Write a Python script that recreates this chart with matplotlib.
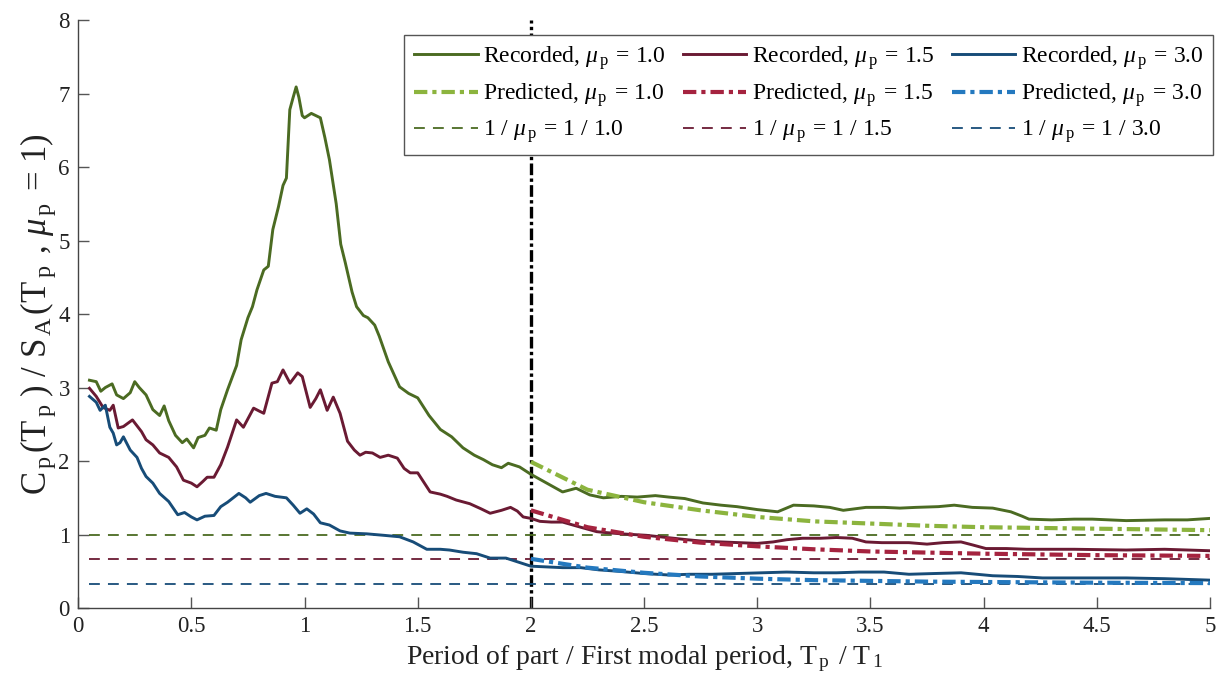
import numpy as np
import matplotlib
matplotlib.use("Agg")
import matplotlib.pyplot as plt

plt.rcParams['font.family'] = ['Liberation Serif', 'DejaVu Serif']
plt.rcParams['mathtext.fontset'] = 'custom'
plt.rcParams['mathtext.rm'] = 'Liberation Serif'
plt.rcParams['mathtext.it'] = 'Liberation Serif:italic'

# -----------------------------
# Recorded floor spectra ratios
# -----------------------------
rec_10_x = [0.05, 0.08, 0.10, 0.12, 0.15, 0.17, 0.20, 0.23, 0.25, 0.27, 0.30, 0.33, 0.36, 0.38,
            0.40, 0.43, 0.46, 0.48, 0.51, 0.53, 0.56, 0.58, 0.61, 0.63, 0.66, 0.70, 0.72, 0.75,
            0.77, 0.79, 0.82, 0.84, 0.86, 0.885, 0.905, 0.92, 0.935, 0.95, 0.963, 0.975, 0.99,
            1.00, 1.03, 1.05, 1.07, 1.09, 1.11, 1.14, 1.16, 1.18, 1.21, 1.23, 1.26, 1.28, 1.31,
            1.33, 1.37, 1.42, 1.46, 1.50, 1.55, 1.60, 1.65, 1.70, 1.75, 1.79, 1.83, 1.87, 1.90,
            1.95, 2.00, 2.07, 2.14, 2.20, 2.26, 2.32, 2.40, 2.47, 2.55, 2.61, 2.68, 2.76, 2.84,
            2.91, 3.00, 3.09, 3.16, 3.25, 3.32, 3.38, 3.48, 3.56, 3.63, 3.70, 3.80, 3.87, 3.95,
            4.04, 4.12, 4.17, 4.20, 4.30, 4.40, 4.48, 4.63, 4.80, 4.90, 5.00]
rec_10_y = [3.10, 3.08, 2.95, 3.00, 3.05, 2.90, 2.85, 2.93, 3.08, 3.00, 2.90, 2.70, 2.62, 2.75,
            2.55, 2.35, 2.25, 2.30, 2.18, 2.32, 2.35, 2.45, 2.42, 2.70, 2.97, 3.30, 3.65, 3.95,
            4.10, 4.33, 4.60, 4.65, 5.15, 5.46, 5.75, 5.85, 6.78, 6.95, 7.09, 6.95, 6.70,
            6.67, 6.73, 6.70, 6.67, 6.40, 6.10, 5.50, 4.95, 4.70, 4.30, 4.10, 3.98, 3.95, 3.85,
            3.70, 3.35, 3.01, 2.92, 2.86, 2.62, 2.43, 2.33, 2.18, 2.08, 2.02, 1.95, 1.91, 1.97,
            1.92, 1.82, 1.70, 1.58, 1.63, 1.54, 1.50, 1.52, 1.51, 1.53, 1.51, 1.49, 1.43, 1.40,
            1.38, 1.34, 1.31, 1.40, 1.39, 1.37, 1.33, 1.37, 1.37, 1.36, 1.37, 1.38, 1.40, 1.37,
            1.36, 1.31, 1.25, 1.21, 1.20, 1.21, 1.21, 1.19, 1.20, 1.20, 1.22]

rec_15_x = [0.05, 0.08, 0.11, 0.14, 0.155, 0.177, 0.20, 0.24, 0.26, 0.28, 0.30, 0.33, 0.36, 0.40,
            0.435, 0.465, 0.50, 0.525, 0.55, 0.57, 0.60, 0.63, 0.66, 0.70, 0.73, 0.775, 0.80,
            0.82, 0.856, 0.88, 0.905, 0.936, 0.97, 0.99, 1.025, 1.05, 1.07, 1.10, 1.127, 1.157,
            1.19, 1.22, 1.245, 1.27, 1.30, 1.334, 1.37, 1.41, 1.44, 1.467, 1.50, 1.555, 1.60,
            1.63, 1.67, 1.73, 1.78, 1.82, 1.87, 1.91, 1.94, 1.966, 2.00, 2.04, 2.09, 2.14, 2.22,
            2.29, 2.32, 2.40, 2.51, 2.60, 2.69, 2.76, 2.84, 2.92, 3.00, 3.07, 3.13, 3.20, 3.28,
            3.35, 3.42, 3.48, 3.55, 3.67, 3.75, 3.82, 3.90, 3.95, 4.01, 4.10, 4.19, 4.40, 4.63,
            4.80, 5.00]
rec_15_y = [2.99, 2.88, 2.73, 2.69, 2.76, 2.45, 2.47, 2.56, 2.48, 2.40, 2.29, 2.22, 2.11, 2.05,
            1.92, 1.74, 1.70, 1.65, 1.72, 1.78, 1.78, 1.95, 2.19, 2.56, 2.46, 2.72, 2.68,
            2.65, 3.06, 3.08, 3.24, 3.06, 3.20, 3.15, 2.73, 2.85, 2.97, 2.69, 2.87, 2.65,
            2.27, 2.15, 2.08, 2.12, 2.11, 2.05, 2.08, 2.04, 1.90, 1.84, 1.84, 1.58, 1.55,
            1.52, 1.47, 1.42, 1.35, 1.29, 1.33, 1.37, 1.32, 1.24, 1.22, 1.18, 1.17, 1.17, 1.10,
            1.04, 1.03, 1.01, 0.99, 0.96, 0.93, 0.91, 0.90, 0.89, 0.88, 0.90, 0.93, 0.95, 0.95,
            0.96, 0.95, 0.90, 0.89, 0.89, 0.87, 0.89, 0.90, 0.86, 0.81, 0.81, 0.80, 0.80, 0.79,
            0.80, 0.78]

rec_30_x = [0.05, 0.08, 0.097, 0.12, 0.14, 0.155, 0.17, 0.185, 0.20, 0.23, 0.26, 0.28, 0.30, 0.33,
            0.36, 0.40, 0.44, 0.47, 0.50, 0.525, 0.56, 0.60, 0.63, 0.66, 0.71, 0.74, 0.76, 0.80,
            0.83, 0.87, 0.92, 0.95, 0.98, 1.01, 1.04, 1.07, 1.11, 1.157, 1.20, 1.275, 1.35, 1.42,
            1.48, 1.54, 1.60, 1.64, 1.70, 1.76, 1.82, 1.89, 1.95, 2.00, 2.07, 2.14, 2.22, 2.30,
            2.39, 2.50, 2.61, 2.70, 2.80, 2.91, 3.02, 3.13, 3.25, 3.35, 3.45, 3.56, 3.67, 3.78,
            3.90, 3.97, 4.04, 4.15, 4.26, 4.45, 4.63, 4.80, 5.00]
rec_30_y = [2.88, 2.80, 2.69, 2.76, 2.46, 2.38, 2.22, 2.25, 2.33, 2.15, 2.05, 1.90, 1.79, 1.70,
            1.56, 1.45, 1.27, 1.30, 1.24, 1.20, 1.25, 1.26, 1.38, 1.44, 1.56, 1.50, 1.44, 1.53,
            1.56, 1.52, 1.50, 1.40, 1.29, 1.35, 1.28, 1.16, 1.13, 1.05, 1.02, 1.01, 0.99, 0.97,
            0.90, 0.80, 0.80, 0.79, 0.76, 0.74, 0.68, 0.68, 0.62, 0.57, 0.56, 0.55, 0.55, 0.52,
            0.50, 0.47, 0.45, 0.46, 0.46, 0.47, 0.48, 0.49, 0.48, 0.48, 0.49, 0.49, 0.46, 0.47,
            0.48, 0.46, 0.44, 0.43, 0.41, 0.41, 0.41, 0.40, 0.38]

# -----------------------------
# Predicted ratios (T_p / T_1 >= 2)
# -----------------------------
pred_x = [2.0, 2.25, 2.5, 2.75, 3.0, 3.25, 3.5, 3.75, 4.0, 4.5, 5.0]
pred_10_y = [1.99, 1.61, 1.44, 1.33, 1.24, 1.18, 1.15, 1.12, 1.10, 1.08, 1.06]
pred_15_y = [1.33, 1.10, 0.97, 0.89, 0.84, 0.80, 0.77, 0.755, 0.74, 0.72, 0.71]
pred_30_y = [0.67, 0.55, 0.48, 0.43, 0.40, 0.38, 0.37, 0.36, 0.355, 0.345, 0.34]

mu_p = [1.0, 1.5, 3.0]
ref_x = [0.05, 5.0]

rec_colors = ['#4b6b22', '#6a1a33', '#174c78']
pred_colors = ['#8cb43e', '#a5233f', '#2479bf']

rec_x = [rec_10_x, rec_15_x, rec_30_x]
rec_y = [rec_10_y, rec_15_y, rec_30_y]
pred_y = [pred_10_y, pred_15_y, pred_30_y]

MU = r'$\mu_{\,\mathrm{p}\,}$'

fig = plt.figure(figsize=(12.21, 6.91), dpi=100)
ax = fig.add_axes([0.064, 0.12, 0.927, 0.851])

# vertical marker at T_p / T_1 = 2
ax.plot([2, 2], [0, 8], color='black', lw=2.4, linestyle=(0, (3.5, 1.0, 1.0, 1.0)), zorder=1)

for i, mu in enumerate(mu_p):
    ax.plot(rec_x[i], rec_y[i], color=rec_colors[i], lw=2.1,
            label='Recorded, ' + MU + ' = %.1f' % mu, zorder=3)
    ax.plot(pred_x, pred_y[i], color=pred_colors[i], lw=3.0,
            linestyle=(0, (3.2, 1.2, 1.0, 1.2)),
            label='Predicted, ' + MU + ' = %.1f' % mu, zorder=4)
    ax.plot(ref_x, [1.0 / mu, 1.0 / mu], color=rec_colors[i], lw=1.3,
            linestyle=(0, (6, 4.5)),
            label='1 / ' + MU + ' = 1 / %.1f' % mu, zorder=2)

ax.set_xlim(0, 5)
ax.set_ylim(0, 8)
ax.set_xticks(np.arange(0, 5.01, 0.5))
ax.set_xticklabels(['0', '0.5', '1', '1.5', '2', '2.5', '3', '3.5', '4', '4.5', '5'])
ax.set_yticks(range(0, 9))

for side in ['top', 'right']:
    ax.spines[side].set_visible(False)
for side in ['left', 'bottom']:
    ax.spines[side].set_color('#444444')
    ax.spines[side].set_linewidth(1.0)
ax.tick_params(direction='in', length=8, width=1.0, color='#555555',
               labelsize=16.5, labelcolor='#222222', pad=6)

ax.set_xlabel(r'Period of part / First modal period, $\mathrm{T_{\,p\,}}$ / $\mathrm{T_{\,1}}$',
              fontsize=20, color='#222222', labelpad=4)
ax.set_ylabel(r'$\mathrm{C_{\,p\,}(T_{\,p\,}\,)}$ / $\mathrm{S_{\,A\,}(T_{\,p\,}}$ , '
              + MU + ' = 1)',
              fontsize=25, color='#222222', labelpad=0)

leg = ax.legend(ncol=3, loc='upper right', bbox_to_anchor=(1.003, 0.975),
                borderaxespad=0, fontsize=17, frameon=True, fancybox=False,
                handlelength=2.7, handletextpad=0.25, columnspacing=0.7,
                labelspacing=0.4, borderpad=0.4)
leg.get_frame().set_edgecolor('#555555')
leg.get_frame().set_linewidth(1.0)
leg.get_frame().set_alpha(1.0)
leg.set_zorder(10)

fig.savefig('out.png', dpi=100)
